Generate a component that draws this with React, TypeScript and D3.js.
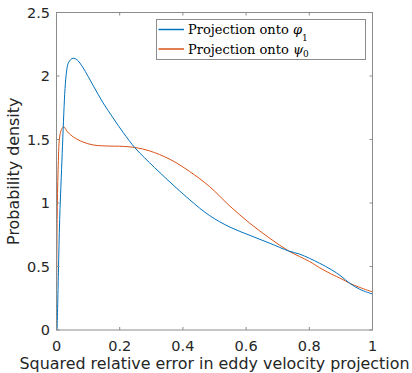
import React from 'react';
import * as d3 from 'd3';

// projection onto phi_1 (blue)
const phiX = [0.002, 0.006, 0.01, 0.015, 0.019, 0.023, 0.027, 0.032, 0.037, 0.045, 0.053, 0.065, 0.084, 0.116, 0.147, 0.179, 0.211, 0.248, 0.279, 0.31, 0.359, 0.422, 0.485, 0.549, 0.612, 0.675, 0.735, 0.77, 0.8, 0.833, 0.87, 0.9, 0.928, 0.96, 1.0];
const phiY = [0, 0.45, 0.87, 1.2, 1.45, 1.7, 1.9, 2.04, 2.1, 2.13, 2.14, 2.128, 2.065, 1.925, 1.79, 1.67, 1.555, 1.435, 1.355, 1.28, 1.165, 1.024, 0.9, 0.81, 0.745, 0.683, 0.622, 0.597, 0.565, 0.525, 0.475, 0.425, 0.368, 0.32, 0.283];

// projection onto psi_0 (orange)
const psiX = [0.0005, 0.002, 0.005, 0.01, 0.016, 0.023, 0.035, 0.053, 0.084, 0.116, 0.169, 0.2, 0.248, 0.295, 0.359, 0.422, 0.485, 0.549, 0.612, 0.675, 0.735, 0.8, 0.833, 0.87, 0.9, 0.928, 0.96, 1.0];
const psiY = [0.34, 0.87, 1.26, 1.52, 1.58, 1.6, 1.56, 1.52, 1.48, 1.457, 1.448, 1.447, 1.437, 1.41, 1.344, 1.247, 1.128, 0.975, 0.84, 0.722, 0.622, 0.54, 0.49, 0.44, 0.405, 0.368, 0.335, 0.3];

const xTicks = [0, 0.2, 0.4, 0.6, 0.8, 1];
const yTicks = [0, 0.5, 1, 1.5, 2, 2.5];

const BLUE = '#0072BD';
const ORANGE = '#D95319';

const App = () => {
  const margin = { top: 12.5, left: 56.5, right: 39.5, bottom: 43 };
  const width = 412;
  const height = 373;
  const x = d3.scaleLinear().domain([0, 1]).range([margin.left, width - margin.right]);
  const y = d3.scaleLinear().domain([0, 2.5]).range([height - margin.bottom, margin.top]);

  const mk = (xs: number[], ys: number[]) =>
    d3.line<number>()
      .x((_, i) => x(xs[i]))
      .y((_, i) => y(ys[i]))
      .curve(d3.curveCatmullRom.alpha(0.5))(xs) || '';

  const font = 'DejaVu Sans, sans-serif';
  const serif = 'DejaVu Serif, serif';
  const axisColor = '#262626';
  const boxColor = '#8c8c8c';
  const x0 = x(0), x1 = x(1), y0 = y(0), y1 = y(2.5);

  return (
    <svg width={width} height={height} style={{ position: 'absolute', left: 0, top: 0, background: '#fff' }}>
      <rect x={0} y={0} width={width} height={height} fill="#fff" />
      <path d={mk(psiX, psiY)} fill="none" stroke={ORANGE} strokeWidth={1} />
      <path d={mk(phiX, phiY)} fill="none" stroke={BLUE} strokeWidth={1} />

      <rect x={x0} y={y1} width={x1 - x0} height={y0 - y1} fill="none" stroke={boxColor} strokeWidth={1} />
      {xTicks.map(t => (
        <g key={'x' + t}>
          <line x1={x(t)} x2={x(t)} y1={y0} y2={y0 - 3} stroke={boxColor} />
          <line x1={x(t)} x2={x(t)} y1={y1} y2={y1 + 3} stroke={boxColor} />
          <text x={x(t)} y={350.5} textAnchor="middle" fontFamily={font} fontSize={14.5} fill={axisColor}>{t}</text>
        </g>
      ))}
      {yTicks.map(t => (
        <g key={'y' + t}>
          <line x1={x0} x2={x0 + 3} y1={y(t)} y2={y(t)} stroke={boxColor} />
          <line x1={x1} x2={x1 - 3} y1={y(t)} y2={y(t)} stroke={boxColor} />
          <text x={50} y={y(t)} dy="0.36em" textAnchor="end" fontFamily={font} fontSize={14.5} fill={axisColor}>{t}</text>
        </g>
      ))}
      <text x={(x0 + x1) / 2} y={368.5} textAnchor="middle" fontFamily={font} fontSize={15.9} fill={axisColor}>
        Squared relative error in eddy velocity projection
      </text>
      <text transform={`translate(19,${(y0 + y1) / 2}) rotate(-90)`} textAnchor="middle" fontFamily={font} fontSize={15.9} fill={axisColor}>
        Probability density
      </text>

      <g>
        <rect x={156.5} y={19.5} width={209} height={40} fill="#fff" stroke={boxColor} strokeWidth={1} />
        <line x1={158.5} x2={184} y1={29.5} y2={29.5} stroke={BLUE} strokeWidth={1.5} />
        <line x1={158.5} x2={184} y1={49} y2={49} stroke={ORANGE} strokeWidth={1.5} />
        <text x={188} y={34} fontFamily={serif} fontSize={13} fill="#000">
          Projection onto <tspan fontStyle="italic">φ</tspan><tspan fontSize={9} dy={7}>1</tspan>
        </text>
        <text x={188} y={53.5} fontFamily={serif} fontSize={13} fill="#000">
          Projection onto <tspan fontStyle="italic">ψ</tspan><tspan fontSize={9} dy={3}>0</tspan>
        </text>
      </g>
    </svg>
  );
};

export default App;
